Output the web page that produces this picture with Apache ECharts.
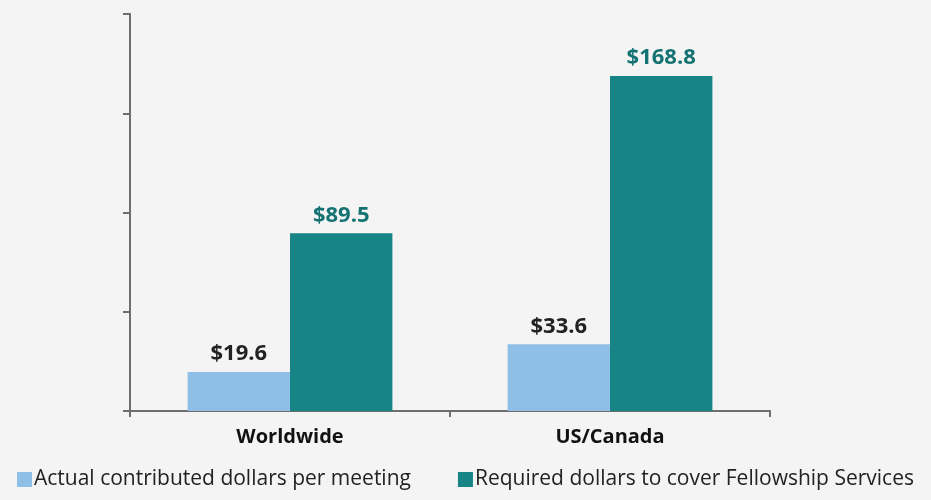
<!DOCTYPE html>
<html>
<head>
<meta charset="utf-8">
<script src="https://cdn.jsdelivr.net/npm/echarts@6/dist/echarts.min.js"></script>
<style>
  html, body { margin: 0; padding: 0; background: #f4f4f4; }
  #main { width: 931px; height: 500px; }
</style>
</head>
<body>
<div id="main"></div>
<script>
var categories = ['Worldwide', 'US/Canada'];
var actualValues = [19.6, 33.6];
var requiredValues = [89.5, 168.8];
var seriesNames = ['Actual contributed dollars per meeting', 'Required dollars to cover Fellowship Services'];

var fontName = 'Open Sans';

var myChart = echarts.init(document.getElementById('main'));
var option = {
    backgroundColor: '#f4f4f4',
    textStyle: { fontFamily: fontName },
    grid: { left: 130, right: 161, top: 14, bottom: 89 },
    legend: {
        bottom: 5,
        left: 12,
        itemWidth: 15,
        itemHeight: 15,
        itemGap: 47,
        icon: 'rect',
        textStyle: { fontSize: 21, color: '#222', fontFamily: fontName, padding: [0, 0, 0, -3] },
        data: seriesNames
    },
    xAxis: {
        type: 'category',
        data: categories,
        axisLine: { lineStyle: { color: '#6e6e6e', width: 2 } },
        axisTick: { show: true, length: 6, lineStyle: { color: '#6e6e6e', width: 2 } },
        axisLabel: { fontSize: 20, fontWeight: 'bold', color: '#111', margin: 16, fontFamily: fontName }
    },
    yAxis: {
        type: 'value',
        min: 0,
        max: 200,
        interval: 50,
        axisLine: { show: true, lineStyle: { color: '#6e6e6e', width: 2 } },
        axisTick: { show: true, length: 7, lineStyle: { color: '#6e6e6e', width: 2 } },
        axisLabel: { show: false },
        splitLine: { show: false }
    },
    series: [
        {
            name: seriesNames[0],
            type: 'bar',
            data: actualValues,
            barGap: '0%',
            barCategoryGap: '36%',
            itemStyle: { color: '#8fbfe6' },
            label: {
                show: true, position: 'top', distance: 7,
                formatter: function (p) { return '$' + p.value.toFixed(1); },
                fontSize: 22, fontWeight: 'bold', color: '#222', fontFamily: fontName
            }
        },
        {
            name: seriesNames[1],
            type: 'bar',
            data: requiredValues,
            barGap: '0%',
            barCategoryGap: '36%',
            itemStyle: { color: '#178585' },
            label: {
                show: true, position: 'top', distance: 7,
                formatter: function (p) { return '$' + p.value.toFixed(1); },
                fontSize: 22, fontWeight: 'bold', color: '#157272', fontFamily: fontName
            }
        }
    ]
};
myChart.setOption(option);
</script>
</body>
</html>
